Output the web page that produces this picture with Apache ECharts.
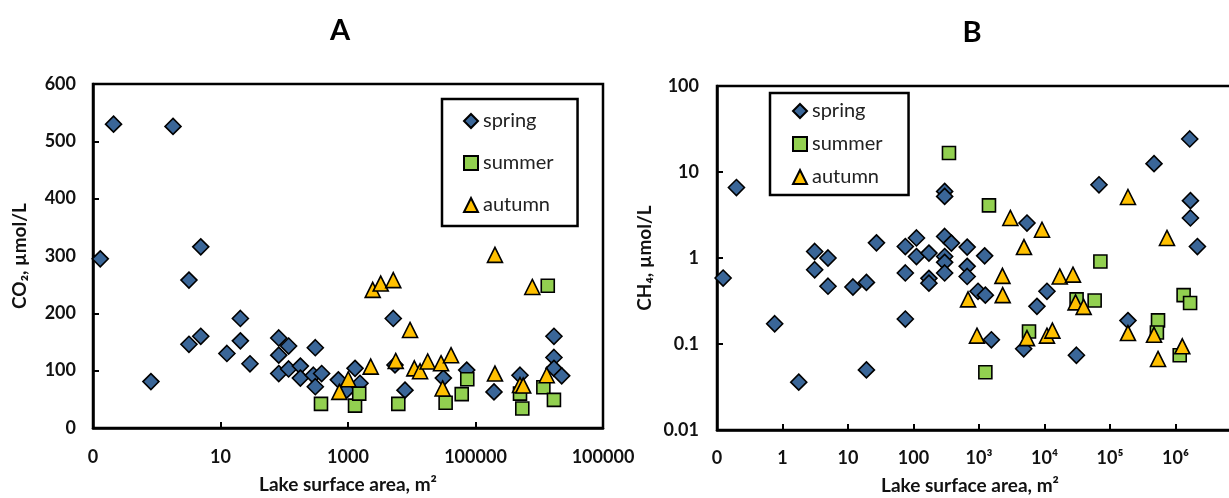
<!DOCTYPE html>
<html><head><meta charset="utf-8">
<script src="https://cdn.jsdelivr.net/npm/echarts@6/dist/echarts.min.js"></script>
<style>html,body{margin:0;padding:0;background:#fff}#c{width:1229px;height:498px}</style>
</head><body><div id="c"></div>
<script>
// ---------- Panel A: CO2 vs lake surface area ----------
const springA_x = [0.13,0.21,1.8,4.9,0.81,3.2,3.2,4.9,12.6,20.5,20.5,29,82,82,82,117,117,179,179,307,286,386,307,705,1289,1542,955,5130,5460,7830,31300,72800,195000,499000,1.70e6,1.70e6,1.70e6,2.25e6];
const springA_y = [295,530,526,316,81,258,146,160,130,191,152,112,157,127,95,143,103,108,87,140,92,95,72,84,104,78,66,191,110,66,87,101,63,92,160,123,104,91];
const summerA_x = [377,1289,1500,6150,34000,60800,74300,499000,542000,1.16e6,1.36e6,1.70e6];
const summerA_y = [42,39,60,42,44,59,85,60,34,71,248,49];
const autumnA_x = [2440,3260,5130,9400,1010,731,2270,5600,10970,13500,17800,28800,41300,30500,202000,202000,499000,560000,778000,1.31e6];
const autumnA_y = [241,252,258,171,85,63,107,117,104,99,116,113,127,69,95,302,75,74,246,92];

// ---------- Panel B: CH4 vs lake surface area ----------
const springB_x = [0.124,0.198,0.76,1.77,3.1,3.1,4.95,4.95,11.9,19.1,19.1,27.2,75,75,75,111,111,172,172,172,299,299,299,379,299,299,299,660,660,660,1220,966,1250,1545,5400,10900,7670,4810,30700,67900,470000,188000,1.69e6,1.69e6,2.16e6,1.65e6];
const springB_y = [0.585,6.6,0.172,0.036,1.19,0.73,1.0,0.47,0.46,0.52,0.050,1.5,1.36,0.67,0.195,1.71,1.04,1.14,0.58,0.51,5.95,5.2,1.78,1.49,1.04,0.89,0.67,1.34,0.80,0.61,1.06,0.41,0.37,0.112,2.55,0.41,0.274,0.088,0.074,7.1,12.5,0.187,4.64,2.92,1.36,24.2];
const summerB_x = [348,1420,71300,1250,5800,30900,58300,541000,520000,1.33e6,1.67e6,1.16e6];
const summerB_y = [16.6,4.09,0.91,0.047,0.14,0.33,0.32,0.188,0.136,0.37,0.30,0.074];
const autumnB_x = [3010,9160,4860,188000,741000,2280,2300,680,17100,27200,29800,39600,931,5400,10900,13200,188000,470000,541000,1.27e6];
const autumnB_y = [2.92,2.13,1.34,5.12,1.71,0.62,0.37,0.33,0.61,0.64,0.305,0.27,0.125,0.117,0.125,0.143,0.134,0.128,0.067,0.094];

// ---------- Tick labels ----------
const xTickValuesA = [0.1,10,1000,1e5,1e7];
const xTickLabelsA = ['0','10','1000','100000','100000'];
const yTickValuesA = [0,100,200,300,400,500,600];
const xTickValuesB = [0.1,1,10,100,1e3,1e4,1e5,1e6];
const xTickLabelsB = ['0','1','10','100','10³','10⁴','10⁵','10⁶'];
const yTickValuesB = [0.01,0.1,1,10,100];
const yTickLabelsB = ['0.01','0.1','1','10','100'];
const seriesNames = ['spring','summer','autumn'];

const zip = (xs, ys) => xs.map((x, i) => [x, ys[i]]);
function logLabel(values, labels) {
  return function (v) {
    const lv = Math.log10(v);
    for (let i = 0; i < values.length; i++) {
      if (Math.abs(Math.log10(values[i]) - lv) < 1e-6) return labels[i];
    }
    return '';
  };
}

const FONT = 'Lato, "Open Sans", "DejaVu Sans", sans-serif';
const colors = {spring: '#3A6698', summer: '#92D050', autumn: '#FFC000'};
const symbols = {spring: 'diamond', summer: 'rect', autumn: 'triangle'};
const sizes = {spring: 16, summer: 13, autumn: 15};

const axisLineStyle = {show: true, lineStyle: {color: '#000', width: 2.5}};
const tickStyle = {show: true, inside: true, length: 6, lineStyle: {color: '#000', width: 2}};
const labelStyle = {color: '#111', fontFamily: FONT, fontWeight: 'bold', fontSize: 18};
const nameStyle = {color: '#111', fontFamily: FONT, fontWeight: 'bold', fontSize: 19};

function mkSeries(name, data, xi, yi) {
  return {
    name: name, type: 'scatter', xAxisIndex: xi, yAxisIndex: yi, data: data,
    symbol: symbols[name], symbolSize: sizes[name],
    itemStyle: {color: colors[name], borderColor: '#000', borderWidth: 1.6, opacity: 1},
    emphasis: {disabled: true}, animation: false
  };
}

const legendText = {fontFamily: FONT, fontSize: 20, color: '#222', lineHeight: 20};

const option = {
  animation: false,
  backgroundColor: '#fff',
  graphic: [
    {type: 'text', x: 340, y: 31, style: {text: 'A', font: 'bold 29px ' + FONT, fill: '#000', align: 'center', verticalAlign: 'middle'}},
    {type: 'text', x: 972, y: 33, style: {text: 'B', font: 'bold 29px ' + FONT, fill: '#000', align: 'center', verticalAlign: 'middle'}}
  ],
  legend: [
    {data: seriesNames, orient: 'vertical', left: 442, top: 99, itemWidth: 14, itemHeight: 14, itemGap: 22,
     padding: [12, 24, 11, 21], borderColor: '#000', borderWidth: 2.5, textStyle: legendText, selectedMode: false},
    {data: seriesNames, orient: 'vertical', left: 770, top: 93, itemWidth: 14, itemHeight: 14, itemGap: 13,
     padding: [8, 26, 8, 22], borderColor: '#000', borderWidth: 2.5, textStyle: legendText, selectedMode: false}
  ],
  grid: [
    {left: 93, top: 84, width: 510, height: 344, show: true, borderColor: '#000', borderWidth: 2.5, containLabel: false, outerBoundsMode: 'none'},
    {left: 717, top: 86, width: 524, height: 344, show: true, borderColor: '#000', borderWidth: 2.5, containLabel: false, outerBoundsMode: 'none'}
  ],
  xAxis: [
    {type: 'log', logBase: 10, gridIndex: 0, min: 0.1, max: 1e7, interval: 2,
     name: 'Lake surface area, m²', nameLocation: 'middle', nameGap: 47, nameTextStyle: nameStyle,
     axisLine: axisLineStyle, axisTick: tickStyle, splitLine: {show: false}, minorTick: {show: false},
     axisLabel: Object.assign({margin: 20, formatter: logLabel(xTickValuesA, xTickLabelsA), showMinLabel: true, showMaxLabel: true, hideOverlap: false}, labelStyle)},
    {type: 'log', logBase: 10, gridIndex: 1, min: 0.1, max: 1e7,
     name: 'Lake surface area, m²', nameLocation: 'middle', nameGap: 46, nameTextStyle: Object.assign({}, nameStyle, {padding: [0, 18, 0, 0]}),
     axisLine: axisLineStyle, axisTick: tickStyle, splitLine: {show: false},
     axisLabel: Object.assign({margin: 19, formatter: logLabel(xTickValuesB, xTickLabelsB), showMinLabel: true, showMaxLabel: true, hideOverlap: false}, labelStyle)}
  ],
  yAxis: [
    {type: 'value', gridIndex: 0, min: yTickValuesA[0], max: yTickValuesA[yTickValuesA.length - 1], interval: 100,
     name: 'CO₂, µmol/L', nameLocation: 'middle', nameGap: 64, nameTextStyle: nameStyle,
     axisLine: axisLineStyle, axisTick: tickStyle, splitLine: {show: false},
     axisLabel: Object.assign({margin: 17}, labelStyle)},
    {type: 'log', logBase: 10, gridIndex: 1, min: 0.01, max: 100,
     name: 'CH₄, µmol/L', nameLocation: 'middle', nameGap: 63, nameTextStyle: nameStyle,
     axisLine: axisLineStyle, axisTick: tickStyle, splitLine: {show: false},
     axisLabel: Object.assign({margin: 18, formatter: logLabel(yTickValuesB, yTickLabelsB)}, labelStyle)}
  ],
  series: [
    mkSeries('spring', zip(springA_x, springA_y), 0, 0),
    mkSeries('summer', zip(summerA_x, summerA_y), 0, 0),
    mkSeries('autumn', zip(autumnA_x, autumnA_y), 0, 0),
    mkSeries('spring', zip(springB_x, springB_y), 1, 1),
    mkSeries('summer', zip(summerB_x, summerB_y), 1, 1),
    mkSeries('autumn', zip(autumnB_x, autumnB_y), 1, 1)
  ]
};

const chart = echarts.init(document.getElementById('c'), null, {renderer: 'canvas'});
chart.setOption(option);
</script>
</body></html>
